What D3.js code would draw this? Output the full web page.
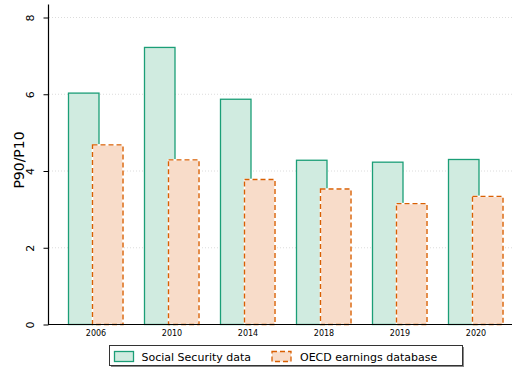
<!DOCTYPE html>
<html>
<head>
<meta charset="utf-8">
<script src="https://cdn.jsdelivr.net/npm/d3@7"></script>
<style>
  body { margin: 0; background: #fff; }
  text { font-family: "DejaVu Sans", Verdana, sans-serif; }
</style>
</head>
<body>
<div id="chart"></div>
<script>
// data
const years = ["2006", "2010", "2014", "2018", "2019", "2020"];
const seriesNames = ["Social Security data", "OECD earnings database"];
const socialSecurity = [6.03, 7.22, 5.87, 4.28, 4.23, 4.30];
const oecd = [4.68, 4.29, 3.78, 3.53, 3.15, 3.34];
const yTicks = [0, 2, 4, 6, 8];

const width = 512, height = 369;
const greenFill = "#d0ebe0", greenLine = "#1b9e77";
const orangeFill = "#f8dcc9", orangeLine = "#d95f02";

const svg = d3.select("#chart").append("svg")
  .attr("width", width)
  .attr("height", height);

// scales
const yScale = d3.scaleLinear().domain([0, 8]).range([324.5, 17.5]);
const xScale = d3.scaleBand().domain(years).range([58, 514]).padding(0);
const xSub = d3.scaleBand().domain(seriesNames).range([10.5, 58.5]);
const barW = 30.5;

// dotted grid
svg.append("g")
  .selectAll("line")
  .data(yTicks.filter(d => d > 0))
  .join("line")
  .attr("x1", 49).attr("x2", width)
  .attr("y1", d => yScale(d)).attr("y2", d => yScale(d))
  .attr("stroke", "#dcdcdc")
  .attr("stroke-width", 1)
  .attr("stroke-dasharray", "1,2");

// bars
const rows = years.map((y, i) => ({year: y, values: [socialSecurity[i], oecd[i]]}));
const groups = svg.append("g").selectAll("g")
  .data(rows)
  .join("g")
  .attr("transform", d => `translate(${xScale(d.year)},0)`);

groups.append("rect")
  .attr("x", xSub(seriesNames[0]))
  .attr("y", d => yScale(d.values[0]))
  .attr("width", barW)
  .attr("height", d => yScale(0) - yScale(d.values[0]))
  .attr("fill", greenFill)
  .attr("stroke", greenLine)
  .attr("stroke-width", 1.3);

// white underline so the dash gaps show white
groups.append("rect")
  .attr("x", xSub(seriesNames[1]))
  .attr("y", d => yScale(d.values[1]))
  .attr("width", barW)
  .attr("height", d => yScale(0) - yScale(d.values[1]))
  .attr("fill", orangeFill)
  .attr("stroke", "#fff")
  .attr("stroke-width", 1.5);

groups.append("rect")
  .attr("x", xSub(seriesNames[1]))
  .attr("y", d => yScale(d.values[1]))
  .attr("width", barW)
  .attr("height", d => yScale(0) - yScale(d.values[1]))
  .attr("fill", "none")
  .attr("stroke", orangeLine)
  .attr("stroke-width", 1.4)
  .attr("stroke-dasharray", "5,3");

// y axis
const yAxis = d3.axisLeft(yScale).tickValues(yTicks).tickSize(5).tickSizeOuter(0).tickPadding(4);
const gy = svg.append("g")
  .attr("transform", "translate(48.5,0)")
  .call(yAxis);
gy.select(".domain").remove();
gy.selectAll(".tick line").attr("stroke", "#000");
gy.selectAll(".tick text")
  .attr("font-size", 11)
  .attr("fill", "#000")
  .attr("text-anchor", "middle")
  .attr("dy", 0)
  .attr("transform", "translate(-15,0) rotate(-90)")
  .attr("x", 0)
  .attr("y", 0);
gy.append("line")
  .attr("x1", 0).attr("x2", 0)
  .attr("y1", 4.5).attr("y2", yScale(0))
  .attr("stroke", "#000").attr("stroke-width", 1.2);

svg.append("text")
  .attr("transform", "translate(24,160) rotate(-90)")
  .attr("text-anchor", "middle")
  .attr("font-size", 14)
  .text("P90/P10");

// x axis
const xAxis = d3.axisBottom(xScale).tickSize(0).tickPadding(6);
const gx = svg.append("g")
  .attr("transform", `translate(0,${yScale(0)})`)
  .call(xAxis);
gx.select(".domain").remove();
gx.selectAll(".tick text").attr("font-size", 8).attr("fill", "#000");
gx.append("line")
  .attr("x1", 48).attr("x2", width)
  .attr("y1", 0).attr("y2", 0)
  .attr("stroke", "#000").attr("stroke-width", 1.2);

// legend
const lg = svg.append("g");
lg.append("rect")
  .attr("x", 111).attr("y", 347).attr("width", 353).attr("height", 20)
  .attr("fill", "#888");
lg.append("rect")
  .attr("x", 109.5).attr("y", 345.5).attr("width", 353).attr("height", 20)
  .attr("fill", "#fff").attr("stroke", "#333").attr("stroke-width", 1);
lg.append("rect")
  .attr("x", 114.5).attr("y", 351.5).attr("width", 19).attr("height", 10)
  .attr("fill", greenFill).attr("stroke", greenLine).attr("stroke-width", 1.3);
lg.append("rect")
  .attr("x", 272).attr("y", 351.5).attr("width", 19).attr("height", 10)
  .attr("fill", orangeFill).attr("stroke", orangeLine).attr("stroke-width", 1.3)
  .attr("stroke-dasharray", "5,3");
lg.append("text").attr("x", 141.5).attr("y", 360.5).attr("font-size", 11).text(seriesNames[0]);
lg.append("text").attr("x", 300).attr("y", 360.5).attr("font-size", 11).text(seriesNames[1]);
</script>
</body>
</html>
